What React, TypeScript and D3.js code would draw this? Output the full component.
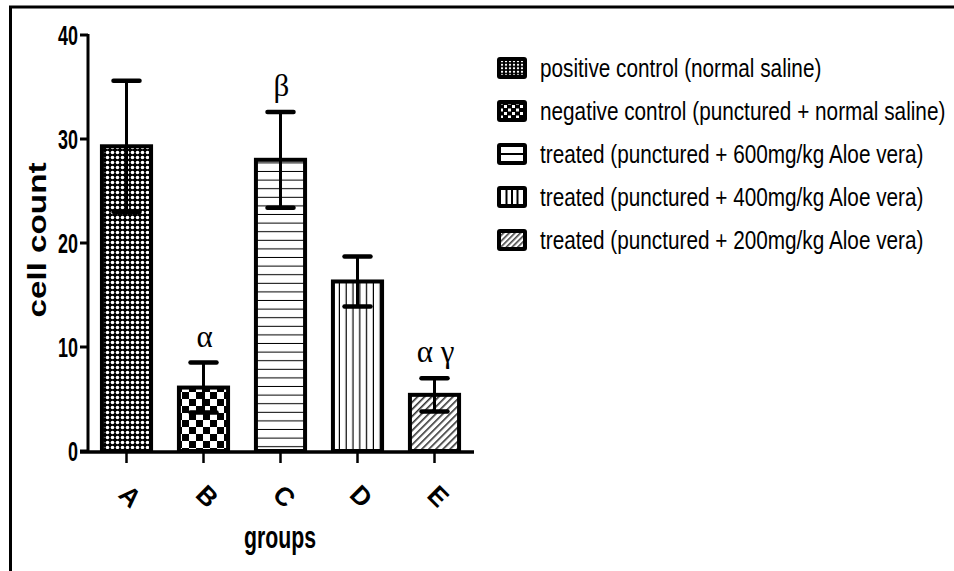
import React from "react";
import * as d3 from "d3";

// values
const groups = ["A", "B", "C", "D", "E"];
const means = [29.3, 6.1, 28.0, 16.3, 5.4];
const sds = [6.3, 2.4, 4.6, 2.4, 1.6];
const marks = ["", "α", "β", "", "α γ"];
const yTicks = [0, 10, 20, 30, 40];
const legendLabels = [
  "positive control (normal saline)",
  "negative control (punctured + normal saline)",
  "treated (punctured + 600mg/kg Aloe vera)",
  "treated (punctured + 400mg/kg Aloe vera)",
  "treated (punctured + 200mg/kg Aloe vera)",
];

const W = 954;
const H = 571;
const sans = "'Liberation Sans', Arial, sans-serif";
const patIds = ["pDots", "pCheck", "pHoriz", "pVert", "pHatch"];

const Swatch = ({ i, x, y }: { i: number; x: number; y: number }) => {
  const w = 30;
  const h = 22;
  const inner = { x: x + 4, y: y + 4, w: w - 8, h: h - 8 };
  let content: React.ReactNode = null;
  if (i === 0) {
    content = <rect x={inner.x} y={inner.y} width={inner.w} height={inner.h} fill="url(#lDots)" />;
  } else if (i === 1) {
    content = <rect x={inner.x} y={inner.y} width={inner.w} height={inner.h} fill="url(#lCheck)" />;
  } else if (i === 2) {
    content = (
      <g>
        <rect x={inner.x} y={inner.y} width={inner.w} height={inner.h} fill="#fff" />
        <line x1={inner.x} x2={inner.x + inner.w} y1={inner.y + inner.h / 2} y2={inner.y + inner.h / 2} stroke="#000" strokeWidth={2} />
      </g>
    );
  } else if (i === 3) {
    content = (
      <g>
        <rect x={inner.x} y={inner.y} width={inner.w} height={inner.h} fill="#fff" />
        {[1, 2, 3].map((k) => (
          <line key={k} x1={inner.x + (inner.w * k) / 4} x2={inner.x + (inner.w * k) / 4} y1={inner.y} y2={inner.y + inner.h} stroke="#000" strokeWidth={2} />
        ))}
      </g>
    );
  } else {
    content = <rect x={inner.x} y={inner.y} width={inner.w} height={inner.h} fill="url(#lHatch)" />;
  }
  return (
    <g>
      <rect x={x} y={y} width={w} height={h} rx={3} fill="#000" />
      {content}
    </g>
  );
};

const App = () => {
  const y = d3.scaleLinear().domain([0, 40]).range([451, 35]);
  const x = d3.scaleBand().domain(groups).range([88, 473]).paddingInner(0.31).paddingOuter(0.155);
  const bw = x.bandwidth();
  const y0 = y(0);

  return (
    <svg width={W} height={H} style={{ position: "absolute", left: 0, top: 0, background: "#fff" }}>
      <defs>
        <pattern id="pDots" width={5} height={5} patternUnits="userSpaceOnUse">
          <rect width={5} height={5} fill="#000" />
          <circle cx={2.5} cy={2.5} r={1.8} fill="#fff" />
        </pattern>
        <pattern id="pCheck" width={14} height={14} patternUnits="userSpaceOnUse">
          <rect width={14} height={14} fill="#fff" />
          <rect width={7} height={7} fill="#000" />
          <rect x={7} y={7} width={7} height={7} fill="#000" />
        </pattern>
        <pattern id="pHoriz" width={10} height={8.6} patternUnits="userSpaceOnUse">
          <rect width={10} height={8.6} fill="#fff" />
          <rect y={7.6} width={10} height={1.6} fill="#000" />
        </pattern>
        <pattern id="pVert" width={6.8} height={10} patternUnits="userSpaceOnUse">
          <rect width={6.8} height={10} fill="#fff" />
          <rect x={5.6} width={1.4} height={10} fill="#000" />
        </pattern>
        <pattern id="pHatch" width={5} height={5} patternUnits="userSpaceOnUse" patternTransform="rotate(45)">
          <rect width={5} height={5} fill="#fff" />
          <rect width={1.6} height={5} fill="#333" />
        </pattern>
        <pattern id="lDots" width={4} height={3.5} patternUnits="userSpaceOnUse">
          <rect width={4} height={3.5} fill="#000" />
          <circle cx={2} cy={1.75} r={1.2} fill="#fff" />
        </pattern>
        <pattern id="lCheck" width={8} height={7} patternUnits="userSpaceOnUse">
          <rect width={8} height={7} fill="#000" />
          <rect width={3} height={3} fill="#fff" />
          <rect x={4} y={3.5} width={3} height={3} fill="#fff" />
        </pattern>
        <pattern id="lHatch" width={4} height={4} patternUnits="userSpaceOnUse" patternTransform="rotate(45)">
          <rect width={4} height={4} fill="#fff" />
          <rect width={1.6} height={4} fill="#444" />
        </pattern>
      </defs>

      {/* frame */}
      <path d={`M10.5,${H} V7 H${W}`} fill="none" stroke="#000" strokeWidth={3} />

      {/* bars */}
      {groups.map((g, i) => (
        <rect
          key={g}
          x={(x(g) as number) + 2}
          y={y(means[i])}
          width={bw - 4}
          height={y0 - y(means[i])}
          fill={`url(#${patIds[i]})`}
          stroke="#000"
          strokeWidth={4}
        />
      ))}

      {/* error bars */}
      {groups.map((g, i) => {
        const cx = (x(g) as number) + bw / 2;
        const top = y(means[i] + sds[i]);
        const bot = y(means[i] - sds[i]);
        return (
          <g key={g} stroke="#000">
            <line x1={cx} x2={cx} y1={top} y2={bot} strokeWidth={3} />
            <line x1={cx - 13} x2={cx + 13} y1={top} y2={top} strokeWidth={4.5} strokeLinecap="round" />
            <line x1={cx - 13} x2={cx + 13} y1={bot} y2={bot} strokeWidth={4.5} strokeLinecap="round" />
          </g>
        );
      })}

      {/* significance marks */}
      {groups.map((g, i) =>
        marks[i] ? (
          <text
            key={g}
            x={(x(g) as number) + bw / 2 + 1}
            y={y(means[i] + sds[i]) - 16}
            textAnchor="middle"
            fontFamily="'Liberation Serif', 'DejaVu Serif', serif"
            fontSize={31}
            fill="#000"
            style={{ whiteSpace: "pre" }}
          >
            {marks[i]}
          </text>
        ) : null
      )}

      {/* y axis */}
      <line x1={88} x2={88} y1={y(40) - 1} y2={y0 + 1} stroke="#000" strokeWidth={3} />
      {yTicks.map((t) => (
        <g key={t}>
          <line x1={80} x2={88} y1={y(t)} y2={y(t)} stroke="#000" strokeWidth={3} />
          <text
            x={78}
            y={y(t)}
            dy="0.36em"
            textAnchor="end"
            fontFamily={sans}
            fontWeight="bold"
            fontSize={28}
            textLength={String(t).length * 10}
            lengthAdjust="spacingAndGlyphs"
            fill="#000"
          >
            {t}
          </text>
        </g>
      ))}
      <text
        transform="translate(46,240) rotate(-90)"
        textAnchor="middle"
        fontFamily={sans}
        fontWeight="bold"
        fontSize={25}
        textLength={155}
        lengthAdjust="spacingAndGlyphs"
        fill="#000"
      >
        cell count
      </text>

      {/* x axis */}
      <line x1={80} x2={474} y1={y0 + 1} y2={y0 + 1} stroke="#000" strokeWidth={3.5} />
      {groups.map((g) => {
        const cx = (x(g) as number) + bw / 2;
        return (
          <g key={g}>
            <line x1={cx} x2={cx} y1={y0} y2={y0 + 12} stroke="#000" strokeWidth={2.5} />
            <text
              transform={`translate(${cx + 4},${y0 + 45}) rotate(45)`}
              textAnchor="middle"
              dy="0.36em"
              fontFamily={sans}
              fontWeight="bold"
              fontSize={26}
              fill="#000"
            >
              {g}
            </text>
          </g>
        );
      })}
      <text
        x={280}
        y={548}
        textAnchor="middle"
        fontFamily={sans}
        fontWeight="bold"
        fontSize={32}
        textLength={72}
        lengthAdjust="spacingAndGlyphs"
        fill="#000"
      >
        groups
      </text>

      {/* legend */}
      {legendLabels.map((lab, i) => {
        const ly = 68 + i * 43;
        return (
          <g key={lab}>
            <Swatch i={i} x={497} y={ly - 11} />
            <text
              transform={`translate(540,${ly}) scale(0.83,1)`}
              dy="0.36em"
              fontFamily={sans}
              fontSize={25}
              fill="#000"
            >
              {lab}
            </text>
          </g>
        );
      })}
    </svg>
  );
};

export default App;
